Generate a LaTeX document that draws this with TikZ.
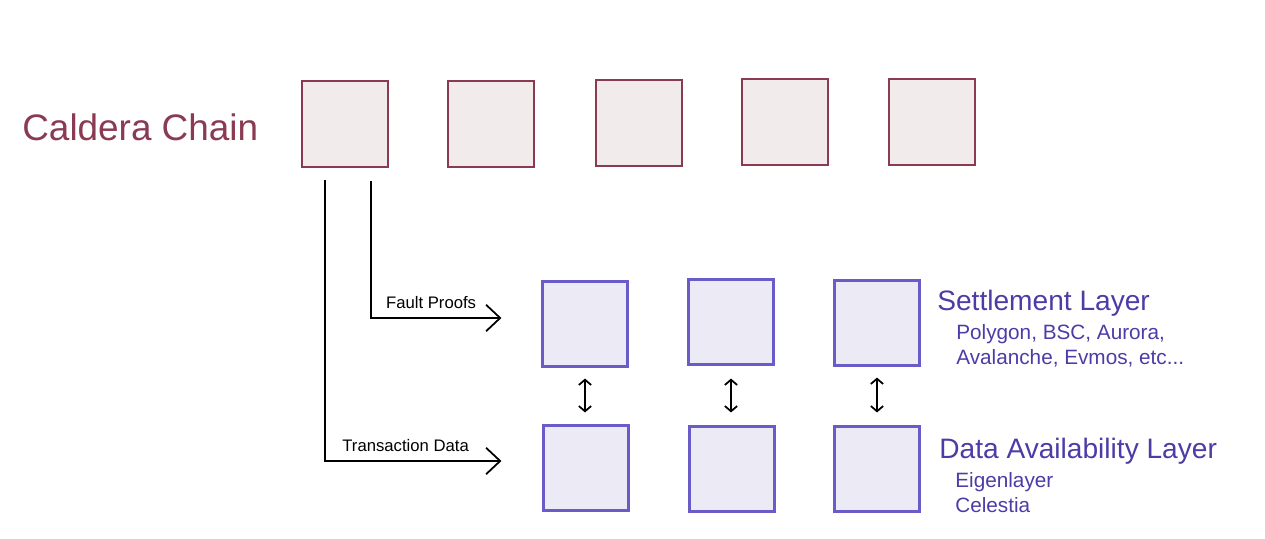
\documentclass[tikz,border=0pt]{standalone}
\usepackage{fontspec}
\setmainfont{Liberation Sans}
\usepackage{tikz}
\usetikzlibrary{arrows.meta,positioning,calc}
\definecolor{ChainRed}{HTML}{8A3A52}
\definecolor{ChainFill}{HTML}{F2EBEC}
\definecolor{LayerBlue}{HTML}{6A5CC8}
\definecolor{LayerFill}{HTML}{ECEAF5}
\definecolor{LayerText}{HTML}{4B3CA6}

\begin{document}
\begin{tikzpicture}[
    x=0.02cm,y=-0.02cm,
    cnode/.style={rectangle,draw=ChainRed,fill=ChainFill,line width=1.5pt,minimum size=1.72cm},
    lnode/.style={rectangle,draw=LayerBlue,fill=LayerFill,line width=1.2pt,minimum size=1.7cm},
    flow/.style={-{Straight Barb[length=8pt,width=15pt]},line width=1pt},
    swap/.style={{Straight Barb[length=3pt,width=7pt]}-{Straight Barb[length=3pt,width=7pt]},line width=1pt},
    tag/.style={font=\fontsize{9.5}{11}\selectfont,inner sep=0pt}
  ]
  \useasboundingbox (0,0) rectangle (1265,538);
  % Caldera chain
  \node[anchor=west,inner sep=0pt,ChainRed,font=\fontsize{21}{24}\selectfont] (title) at (22,127) {Caldera Chain};
  \node[cnode] (c1) at (345,124) {};
  \node[cnode] (c2) at (491,124) {};
  \node[cnode] (c3) at (639,123) {};
  \node[cnode] (c4) at (785,122) {};
  \node[cnode] (c5) at (932,122) {};
  % Settlement layer
  \node[lnode] (s1) at (585,324) {};
  \node[lnode] (s2) at (731,322) {};
  \node[lnode] (s3) at (877,323) {};
  % Data availability layer
  \node[lnode] (d1) at (586,468) {};
  \node[lnode] (d2) at (732,469) {};
  \node[lnode] (d3) at (877,469) {};
  % Links between layers
  \draw[swap] ($(s1.south)+(0,11)$) -- ($(s1.south |- d1.north)+(0,-12)$);
  \draw[swap] ($(s2.south)+(0,13)$) -- ($(s2.south |- d2.north)+(0,-13)$);
  \draw[swap] ($(s3.south)+(0,11)$) -- ($(s3.south |- d3.north)+(0,-13)$);
  % Flows out of the chain
  \coordinate (txStart) at ($(c1.south west)+(24,12)$);
  \coordinate (fpStart) at ($(c1.south west)+(70,13)$);
  \draw[flow] (fpStart) |- ($(s1.west)+(-40,-6)$)
    node[tag,pos=0.731,above=5pt] (fp) {Fault Proofs};
  \draw[flow] (txStart) |- ($(d1.west)+(-41,-7)$)
    node[tag,pos=0.729,above=5pt] (tx) {Transaction Data};
  % Layer labels
  \node[anchor=west,inner sep=0pt,LayerText,font=\fontsize{16}{18}\selectfont] (slayer) at (937,303) {Settlement Layer};
  \node[anchor=north west,inner sep=0pt,LayerText,font=\fontsize{11.8}{14.2}\selectfont,align=left] (snames) at (956,324) {Polygon, BSC, Aurora,\\Avalanche, Evmos, etc...};
  \node[anchor=west,inner sep=0pt,LayerText,font=\fontsize{16}{18}\selectfont] (dlayer) at (939,451) {Data Availability Layer};
  \node[anchor=north west,inner sep=0pt,LayerText,font=\fontsize{11.8}{14.2}\selectfont,align=left] (dnames) at (955,472) {Eigenlayer\\Celestia};
\end{tikzpicture}
\end{document}
